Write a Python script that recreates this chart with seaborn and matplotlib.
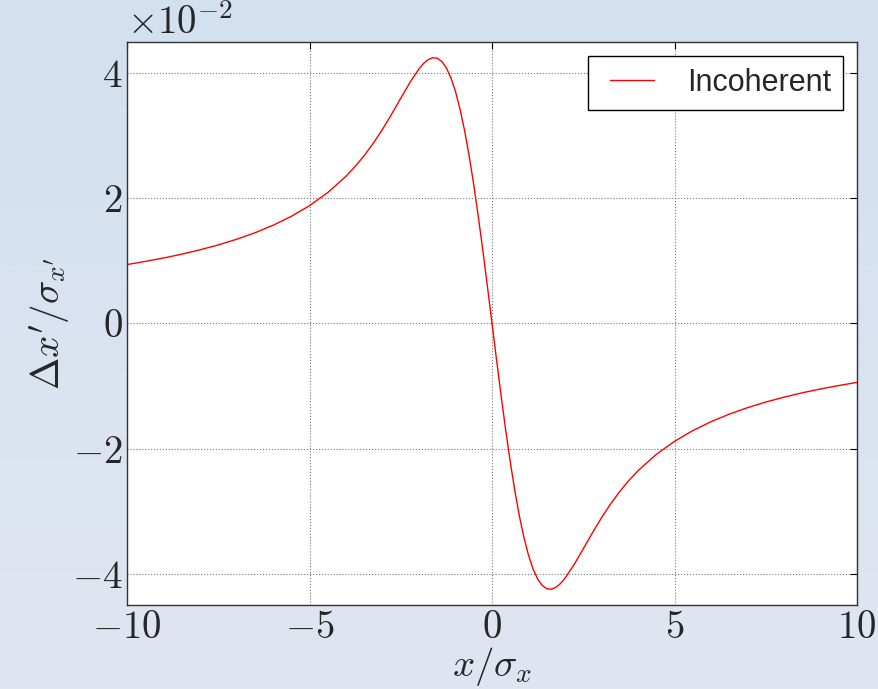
import numpy as np
import matplotlib
matplotlib.use("Agg")
import matplotlib.pyplot as plt
import matplotlib.ticker as mticker
from matplotlib.legend_handler import HandlerLine2D
import seaborn as sns
import pandas as pd

# ---- data (x in sigma_x, kick in units of sigma_x') ----
x_values = [-10.0, -9.5, -9.0, -8.5, -8.0, -7.5, -7.0, -6.5, -6.0, -5.5, -5.0, -4.5,
            -4.0, -3.75, -3.5, -3.25, -3.0, -2.75, -2.5, -2.25, -2.0, -1.875, -1.75,
            -1.625, -1.5, -1.375, -1.25, -1.125, -1.0, -0.875, -0.75, -0.625, -0.5,
            -0.375, -0.25, -0.125, 0.0, 0.125, 0.25, 0.375, 0.5, 0.625, 0.75, 0.875,
            1.0, 1.125, 1.25, 1.375, 1.5, 1.625, 1.75, 1.875, 2.0, 2.25, 2.5, 2.75,
            3.0, 3.25, 3.5, 3.75, 4.0, 4.5, 5.0, 5.5, 6.0, 6.5, 7.0, 7.5, 8.0, 8.5,
            9.0, 9.5, 10.0]
kick_values = [0.00942, 0.00992, 0.01047, 0.01108, 0.01178, 0.01256, 0.01346, 0.01449,
               0.01570, 0.01713, 0.01884, 0.02093, 0.02354, 0.02510, 0.02686, 0.02884,
               0.03105, 0.03347, 0.03602, 0.03853, 0.04072, 0.04158, 0.04218, 0.04249,
               0.04241, 0.04189, 0.04086, 0.03926, 0.03707, 0.03423, 0.03079, 0.02674,
               0.02214, 0.01706, 0.01160, 0.00586, 0.0, -0.00586, -0.01160, -0.01706,
               -0.02214, -0.02674, -0.03079, -0.03423, -0.03707, -0.03926, -0.04086,
               -0.04189, -0.04241, -0.04249, -0.04218, -0.04158, -0.04072, -0.03853,
               -0.03602, -0.03347, -0.03105, -0.02884, -0.02686, -0.02510, -0.02354,
               -0.02093, -0.01884, -0.01713, -0.01570, -0.01449, -0.01346, -0.01256,
               -0.01178, -0.01108, -0.01047, -0.00992, -0.00942]
series_label = "Incoherent"
x_ticks = [-10, -5, 0, 5, 10]
y_ticks = [-0.04, -0.02, 0.0, 0.02, 0.04]

df = pd.DataFrame({"x": x_values, "kick": kick_values})

sns.set_style("white")
plt.rcParams["mathtext.fontset"] = "cm"
plt.rcParams["font.family"] = ["Liberation Sans", "DejaVu Sans"]

fig = plt.figure(figsize=(8.79, 6.89), dpi=100)

# background gradient
bg = fig.add_axes([0, 0, 1, 1], zorder=-10)
top = np.array([0xd3, 0xe0, 0xf0]) / 255.0
bot = np.array([0xe0, 0xe6, 0xf0]) / 255.0
t = np.linspace(0, 1, 256)[:, None, None]
grad = top[None, None, :] * (1 - t) + bot[None, None, :] * t
bg.imshow(np.repeat(grad, 2, axis=1), aspect="auto", extent=[0, 1, 0, 1])
bg.axis("off")

ax = fig.add_axes([0.1445, 0.122, 0.8305, 0.817])
ax.set_facecolor("white")

sns.lineplot(data=df, x="x", y="kick", color="red", lw=1.0, label=series_label,
             estimator=None, sort=False, ax=ax)

ax.set_xlim(-10, 10)
ax.set_ylim(-0.045, 0.045)
ax.set_xticks(x_ticks)
ax.set_yticks(y_ticks)
ax.xaxis.set_major_formatter(mticker.FuncFormatter(lambda v, p: f"${int(round(v))}$"))
ax.yaxis.set_major_formatter(mticker.FuncFormatter(lambda v, p: f"${int(round(v * 100))}$"))
ax.tick_params(axis="both", which="major", direction="in", length=5, width=0.8,
               top=True, right=True, labelsize=28, color="black")
ax.tick_params(axis="x", pad=4)
ax.tick_params(axis="y", pad=3)

ax.grid(True, linestyle=":", color="#777777", linewidth=0.8)
for s in ax.spines.values():
    s.set_color("#333333")
    s.set_linewidth(1.0)
    s.set_visible(True)

ax.set_xlabel(r"$x/\sigma_x$", fontsize=28, labelpad=-1)
ax.set_ylabel(r"$\Delta x'/\sigma_{x'}$", fontsize=28, labelpad=0)

ax.text(0.0, 1.0, r"$\times10^{-2}$", transform=ax.transAxes, fontsize=28,
        ha="left", va="bottom")

handles, labels = ax.get_legend_handles_labels()
leg = ax.legend(handles, labels, loc="upper right", fontsize=22, frameon=True,
                fancybox=False, shadow=False, handlelength=1.75, handletextpad=1.08,
                borderpad=0.4, borderaxespad=0.45,
                handler_map={handles[0]: HandlerLine2D(xpad=0.3)})
leg.get_frame().set_edgecolor("black")
leg.get_frame().set_linewidth(1.0)
leg.get_frame().set_alpha(1.0)

fig.savefig("out.png", dpi=100, facecolor=fig.get_facecolor())
